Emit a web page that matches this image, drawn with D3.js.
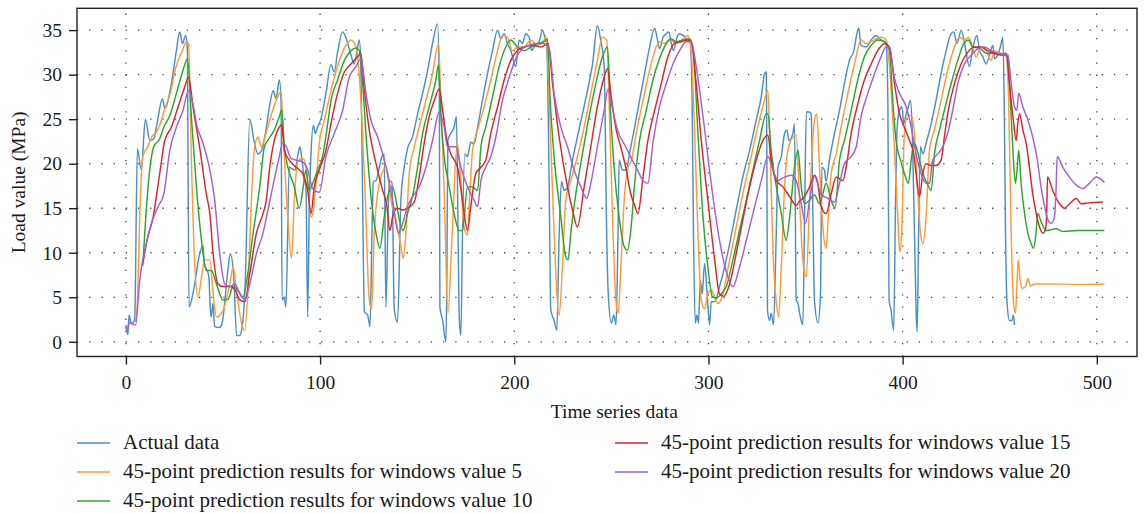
<!DOCTYPE html>
<html>
<head>
<meta charset="utf-8">
<script src="https://cdn.jsdelivr.net/npm/d3@7"></script>
<style>
  html, body { margin: 0; padding: 0; background: #fff; }
  svg { display: block; }
  text { font-family: "Liberation Serif", "DejaVu Serif", serif; fill: #1a1a1a; }
</style>
</head>
<body>
<svg id="chart" width="1145" height="514"></svg>
<script>
// ---------- data ----------
const xTicks = [0, 100, 200, 300, 400, 500];
const yTicks = [0, 5, 10, 15, 20, 25, 30, 35];
const seriesNames = [
  "Actual data",
  "45-point prediction results for windows value 5",
  "45-point prediction results for windows value 10",
  "45-point prediction results for windows value 15",
  "45-point prediction results for windows value 20"
];
const seriesColors = ["#4a8fc8", "#ff9a36", "#2ca52c", "#dc2424", "#a35fd6"];

const actualData = [[0,1.7],[1,0.8],[1.6,3.0],[2.8,2.0],[4.5,2.5],[5.9,21.7],[7.9,19.3],[10,25.0],[12.3,22.6],[14.3,22.8],[16,24.5],[18.8,27.3],[20,26.2],[23.4,29],[26,32.7],[27.7,34.8],[29.1,33.5],[30.8,34.4],[31.6,33],[32.5,3.9],[34.5,5.4],[38,9.9],[39.7,10.8],[40.3,9],[42.7,7.3],[43.5,3.5],[44,2.8],[44.8,4.3],[45.7,1.7],[48,1.6],[49.3,1.9],[52.5,8],[53.7,9.9],[55.5,7.5],[57,0.7],[58.5,0.7],[60,1.9],[61.3,5.8],[63.8,25],[66,22.5],[68,21.1],[69.7,21.4],[72.3,24],[73.9,26.4],[75.9,28.2],[77.3,27.3],[79,29.4],[79.9,27],[80.4,4.7],[81.5,5.0],[82.4,3.9],[84.1,19.6],[85.8,19.4],[87.2,19.3],[88.4,20.8],[89.6,21.9],[90.7,20.4],[91.9,18.1],[92.7,17.4],[93.6,2.8],[94.4,15],[95.3,21.1],[96.5,24.3],[97.5,23.4],[98.7,24.1],[100.4,25],[103,27.9],[105.6,31.1],[107.3,30.3],[109,32.5],[111.6,34.8],[113.7,33.9],[115.9,32.2],[117.6,31.2],[119.3,33.1],[120.2,33.9],[121,30.9],[121.9,16],[122.8,3.4],[124.5,3.0],[125.7,1.7],[126.7,12],[127.4,18],[128.8,18.1],[130.5,19.6],[131.9,20.8],[133,21.1],[133.9,3.9],[134.8,12],[135.6,18.1],[137,17.9],[138.2,3.6],[139.9,2.2],[141.6,15.9],[143.3,19.6],[145,21.7],[147.6,23],[150.2,25.6],[152.8,27.9],[155.4,30.5],[157.9,33.5],[160.5,35.7],[161.4,28],[161.7,3.9],[163.1,2.4],[164.8,0.0],[165.3,8],[165.8,22.6],[167.3,23.4],[169,24.1],[170.2,25.3],[170.9,15],[171.6,3],[172.5,0.7],[173.3,12],[174.5,21.1],[175.9,20.8],[177.6,22.4],[179.3,22.2],[181.1,24.1],[183.6,27.1],[186.2,30.1],[188.8,32.7],[191.4,35],[193.1,34],[194.8,34.6],[196.5,33.5],[198.2,32.7],[200.8,30.9],[202.5,33.9],[204.2,33.5],[205.9,34.6],[207.6,34.2],[208.9,32.7],[210.2,33.1],[212.8,33.7],[214.5,35],[215.7,34.2],[216.7,33.5],[217.9,19],[218.8,3.6],[220.5,2.4],[221.9,1.3],[223.1,12],[224.3,18],[225.7,17],[227.4,17.4],[230,20.4],[232.5,23],[235.1,25.6],[237.7,28.2],[240.3,31.2],[242.8,35.5],[244.5,33.9],[246.3,30.9],[247.6,12],[248.3,5.8],[250,2.1],[251.3,3.0],[252.4,1.9],[253.4,12],[254,20.4],[255.7,19.3],[257.4,19.3],[260,21.9],[262,24.1],[264.5,27.1],[267.1,30.1],[269.7,33.1],[272.3,35.2],[273.5,34.2],[274.8,32.9],[276.6,34.2],[278.3,34.6],[279.5,34.8],[280.9,33.5],[282,32.7],[283.8,34.2],[285.1,34.6],[286.9,34.4],[288.9,34],[290.6,33.7],[291.6,27],[292.3,12],[293.2,2.1],[294.1,3],[294.9,2.1],[295.8,6.9],[296.8,5.4],[298,8.8],[299.2,5.8],[300.6,1.9],[301.4,4.5],[303.2,4.5],[305.7,6.2],[308.3,8.4],[310.9,11],[314.3,14.8],[317.7,18.5],[321.2,21.5],[324.6,24.9],[327.2,27.5],[328.9,30.1],[329.8,30.3],[330.1,20],[330.4,3.6],[331.4,2.4],[332.3,3.2],[333.5,1.9],[334.9,12],[335.8,19.6],[337.5,20.8],[339.2,23.4],[340.4,23.8],[341.4,22.6],[343.5,23.4],[344.3,24.5],[345.2,4.7],[346.1,4.3],[347.3,2.8],[348.6,1.9],[349.5,14],[350.4,25.8],[351.8,25.8],[352.9,25.6],[353.8,14],[354.6,4.7],[356.4,2.1],[357.7,5.4],[358.4,19.6],[359.7,19.3],[360.6,18],[362.3,20.4],[364.9,23.4],[367.5,26],[370,29],[372.6,31.6],[374.9,32.7],[376.1,34.2],[377.4,35.2],[378.6,33.3],[381.2,33.1],[383.8,33.9],[386.3,34.4],[388.9,33.9],[391.5,33.5],[392.4,27],[393,4.7],[394,3.6],[395.4,1.3],[396.3,15],[397.2,24.1],[398.4,26],[399.6,26.4],[400.6,24.5],[401.8,25.6],[403,26.4],[404,27.1],[404.9,24.1],[406.1,12.2],[407,3],[407.5,1.1],[408.2,12],[409.2,21.9],[410.4,21.1],[412.1,22.3],[414.7,24.5],[417.2,27.1],[419.8,30.1],[422.4,32.7],[425,34.6],[426.3,34.8],[428,33.5],[430.2,35],[431.9,33.5],[434.4,30.9],[436,32.8],[438.2,34.4],[439.6,32.7],[441.3,32],[443,31.2],[444.7,32.2],[446.5,33.3],[447.3,31.8],[449,32.2],[450.8,33.5],[451.6,34.2],[452.3,27],[453,12],[453.7,4.7],[455,2.4],[456.4,2.4],[457,3.0],[457.6,1.9]];

const win5Data = [[5,2.2],[6,5],[7.1,14],[8.7,20.8],[11.2,21.9],[13.8,23.2],[15.5,23.5],[17.2,24.2],[19.8,26],[23.2,28.2],[25.8,30.9],[29.1,32.7],[31.1,33.7],[32.2,33.5],[33.8,19.6],[35.5,8.4],[37.2,5],[38.9,7.3],[40.6,9.2],[43.2,9.2],[44.9,5.4],[46.6,2.8],[50,3.5],[53.5,6.5],[55.2,8.4],[56.9,5.8],[59.5,2.1],[61.2,1.3],[62.9,6.2],[64.6,15.9],[66.3,21.9],[68,23],[69.7,21.9],[72.1,23.4],[75.6,26],[78.1,27.5],[79.9,28.1],[81,23.4],[83.3,14],[85.3,9.4],[86.7,15.9],[88.4,20.2],[90.7,20.6],[92,20.4],[93.6,17.8],[95.3,14],[96.2,14.4],[97.9,17.8],[99.6,22.3],[102.2,24.9],[105.6,28.2],[109.9,31.6],[113.3,33.3],[115.9,33.9],[118.5,33.1],[121,27.1],[123.3,15.9],[125.3,4.7],[126.5,3.7],[127.9,12.2],[130.5,17.8],[133.6,19.5],[134.8,18.6],[136.5,15.9],[139.1,13.7],[141.6,10.7],[142.8,9.4],[144.2,12.2],[145.9,18.9],[148.5,21.9],[151,24.1],[154.5,27.1],[157.9,30.1],[161,33.5],[162.2,27],[163.9,17],[165.8,3.2],[168,12],[170.6,22.3],[172.5,18],[174,13],[175.9,12],[177.2,17],[178.5,21.5],[181.1,23.8],[184.5,26.4],[187.9,29.4],[191.4,32.7],[193.9,34.4],[196.5,34.2],[199.1,32.7],[202,33.1],[205.1,33.1],[208.5,33.9],[211.9,33.3],[215.4,33.9],[216.2,34.4],[218,27.1],[220.5,12.2],[223.1,3],[224.8,8.5],[226.5,15.9],[229.1,18.1],[232.5,20.8],[236,24.1],[239.4,27.9],[242.8,31.6],[245.4,34.2],[247.6,33.9],[248.8,27.1],[250.6,14],[252.3,4.7],[253.5,3.2],[254.9,8.4],[256.6,15.9],[258.3,19.3],[260.5,20.5],[262.8,23.4],[266.3,27.1],[269.7,30.5],[273.1,33.1],[274.8,33.7],[277.4,33.5],[280,34],[283.4,33.5],[286.9,34],[289.4,34.4],[291.1,32.7],[292.9,23.4],[294.6,12.2],[296.3,4.7],[298,3.7],[299.7,5.4],[301.4,5.8],[303.2,5.1],[304.9,4.3],[307.5,5.4],[310.9,9.2],[314.3,12.9],[317.7,16.6],[321.2,20],[324.6,23.4],[328,26.4],[330.6,28.2],[331.5,23.4],[333.2,10.3],[335,4.3],[336.1,2.8],[337.5,8.4],[339.2,17.4],[340.9,21.5],[343.5,23],[345.2,23.2],[346.9,15.9],[348.6,9.2],[350.4,7.3],[352.1,15.9],[354.6,24.9],[355.8,25.6],[357.2,19.6],[358.9,12.9],[360.6,10.5],[361.8,14.4],[363.2,18.9],[365.8,21.1],[368.3,24.1],[371.8,27.9],[375.2,31.2],[378.6,33.9],[381.2,33.5],[383.8,33.7],[386.3,34],[388.9,34.2],[391.5,33.9],[393.2,30.9],[395.8,21.5],[397.5,14],[398.5,10.1],[399.5,12.2],[400.9,23.4],[402.6,25.4],[404.4,25.4],[406.1,23.4],[407.5,17.8],[409.2,12.2],[410.4,11],[412.1,14],[413.8,21.5],[416.4,23.8],[419.8,27.1],[423.2,30.5],[426.7,33.1],[429.2,34.2],[431.8,33.9],[433.9,34.2],[436.1,33.1],[437.8,32],[440.4,33.1],[443,32.7],[445.5,31.6],[447.3,32.7],[450.7,32.4],[453.3,32.2],[454.6,27],[455.9,12.2],[457,4.7],[458.1,3.2],[458.8,6],[459.5,9.2],[460.5,7],[461.6,6],[463.3,6.2],[464.5,7.1],[465.7,6.3],[467.9,6.5],[475,6.5],[490,6.45],[503.9,6.5]];

const win10Data = [[8.8,9.0],[11.4,17.4],[14.3,21.9],[17.4,22.8],[19.5,24.1],[22.6,25.4],[26,27.9],[29.4,30.5],[31.7,31.8],[33.7,25.3],[36.3,17.4],[38.9,11.4],[41.4,8],[44,8],[46.6,6.5],[50,4.7],[52.6,4.8],[55.2,6.2],[57.7,5.8],[60.2,5],[62.8,7.7],[65.5,12.2],[68.9,17.4],[71.3,21.9],[73,22.6],[76.4,23.8],[79,25.3],[80.2,26],[81.6,21.9],[83.8,19.3],[86.7,17.4],[89.3,15],[91.3,17.4],[92.7,19.3],[94.4,17],[96.2,17.8],[98.7,19.3],[101.3,20.8],[103.9,24.5],[105.6,27.1],[109,29.4],[112.5,31.6],[115.9,32.7],[118.5,33],[120.2,32.7],[121.9,29],[123.6,23.4],[126.2,16.3],[128.8,12.2],[130.8,10.5],[133,14],[134.8,16.3],[137.3,17.4],[139,16],[140.8,13.7],[142.8,12.5],[145,14.4],[147.6,16.3],[150.2,19.6],[152.8,23.4],[156.2,26.4],[159.6,29.4],[161,31.1],[162.2,25.3],[163.9,20.8],[166.5,17.4],[169,14.4],[171.6,12.5],[173.3,12.5],[175.9,17.4],[178.5,17.4],[181.1,17],[182.8,21.9],[185.3,24.1],[188.8,27.5],[192.2,30.9],[195.6,33.1],[198.2,33.9],[201.6,33.1],[205.1,32.7],[208.5,33.1],[211.9,33.5],[215.4,33.7],[217.1,34],[218.5,27.1],[220.5,20.8],[224,14],[226.5,9.5],[227.7,9.2],[229.1,12.2],[231.7,16.6],[235.1,21.1],[238.5,25.3],[242,29],[245.4,32],[248,33.1],[249.7,25.3],[251.4,19.6],[254,14],[256.6,10.7],[258.3,10.3],[260,12.5],[262,17.8],[264.5,22.6],[268,26],[271.4,29.4],[274.8,31.8],[278.3,33.5],[280.9,34],[283.4,33.7],[286.9,33.9],[290.3,34],[292,33],[294.6,23.4],[297.2,14],[299.7,8.4],[302,5.1],[304,4.9],[306.6,5.4],[309.2,6.2],[312.6,9.2],[316,12.5],[319.5,15.9],[322.9,19.3],[326.3,22.6],[329.8,25.6],[330.6,25.6],[332.3,21.5],[335,17.4],[337.5,14.4],[340,11.4],[341.8,14],[344.3,19.6],[346.1,21.5],[347.8,17.4],[349.5,15.5],[352,15.9],[354.6,16.5],[357.2,15.5],[358.9,16.6],[360.6,17.8],[363.2,15.9],[365.2,15],[367.5,20.4],[370,22.6],[373.5,26],[376.9,29.4],[380.3,32],[383.8,33.3],[387.2,33.9],[390.6,33.7],[393.2,32.7],[394.9,27.1],[396.6,22.6],[398.9,20.4],[400.9,18.9],[403,17.8],[404.4,20.4],[405.7,22.3],[407,21.9],[408.7,20.4],[410.4,18.9],[412.6,17.8],[414.7,17],[416.4,21.1],[419,23.8],[421.5,26],[425,29],[428.4,31.6],[431.5,33.5],[433.9,33.9],[436.1,33.1],[439.6,33],[443,32.4],[446.5,32.4],[451.6,32.2],[454.2,32],[455.5,27],[456.8,21.5],[458.1,17.8],[459,19.5],[459.8,21.5],[461,17.8],[462.8,14.4],[464.5,12.2],[466.2,11],[467.4,10.5],[468.6,12],[469.6,14.4],[471.3,13.5],[473.9,12.5],[476.5,12.6],[479.1,12.7],[482.5,12.4],[490,12.5],[503.9,12.5]];

const win15Data = [[8.5,8.5],[11,11.5],[14,14],[17.4,18.9],[20,22.6],[23.4,24.1],[26.9,26.4],[30.3,28.6],[32.2,29.7],[34.8,26],[38.2,21.5],[41.4,16.6],[43.2,14.4],[44.9,9.9],[47.4,6.5],[50,6.2],[53.5,6.2],[56,5.9],[58.6,4.7],[61.2,4.5],[63.8,7.7],[67.2,12.2],[70.6,14.4],[72.3,15.9],[73.9,19.3],[76.4,22.6],[79,24.1],[80.2,24.4],[81.6,21.5],[84.1,20.4],[87.6,19.6],[91,18.9],[93.6,17],[95.3,14.4],[97,17.4],[99.6,19.3],[103,21.5],[105.6,24.5],[109,27.9],[112.5,30.3],[115.9,31.2],[119.3,32],[121,32.4],[122.7,28.5],[125.3,23.8],[128.8,20],[132.2,17],[134.2,15.5],[136,12.5],[137.3,14],[139.9,15],[142.5,14.8],[145,15],[148.5,15.7],[151,18.5],[153.6,22.3],[156.2,25.3],[158.8,27.1],[161.4,28.4],[163.1,26],[165.6,22.3],[167.3,21.1],[170.8,19.6],[173.3,15.9],[175.9,12.5],[177.6,15.2],[180.2,18.9],[182.8,19.6],[185.3,20.4],[187.9,23.4],[191.4,26.4],[194.8,29.4],[198.2,31.6],[201.6,32.7],[205.1,33.1],[209.4,33.3],[213.7,33.1],[217.4,33.5],[219.7,29],[223.1,23],[227.4,17.4],[230,14.8],[232.5,12.9],[236,17.4],[239.4,21.9],[242.8,26.4],[246.3,29.7],[248,30.7],[249.7,27.9],[252.3,24],[254.8,21.9],[257.4,19.6],[260,16.6],[261.7,15.5],[263.7,14.4],[266.3,18.5],[268.8,22.6],[272.3,26],[275.7,29],[279.1,32],[282.6,33.5],[286,33.7],[289.4,33.9],[291.1,33.7],[293.7,29],[296.3,22.6],[299.7,15.9],[303.2,9.2],[305.7,5.4],[307.8,5.1],[310.9,6.5],[314.3,9.9],[317.7,13.7],[321.2,17.4],[324.6,20.4],[328,22.6],[330.6,23.2],[332.3,20.4],[334.9,18.1],[338.3,17.4],[341.8,16.3],[345.2,15.3],[346.9,15.8],[348.6,16.1],[352.1,17.4],[354.6,18.7],[356.3,17.8],[358,15.2],[360.6,14.4],[363.2,16.6],[365.8,18.5],[369.2,18.1],[370.9,19.6],[373.5,23.4],[376.9,26.7],[380.3,29.4],[383.8,31.2],[387.2,32.7],[390.6,33.5],[393.2,33.1],[395.8,29],[398.4,25.6],[400.9,24.1],[403.5,22.6],[405.7,21.1],[406.9,18.9],[408.7,16.3],[410.4,18.9],[412.1,20],[414.7,19.8],[417.2,19.8],[419.8,20.4],[421.5,23],[423.2,25.6],[426.7,29],[430.1,31.2],[433.5,32.5],[437,33.1],[440.4,33.1],[443.8,32.7],[447,32.4],[450.7,32.2],[453.3,32.4],[455,29],[456.8,25.3],[458.5,22.6],[459.3,24.5],[460.2,25.6],[461.9,23.8],[463.6,22.3],[465.3,19.6],[467,16.6],[468.8,14.4],[470.5,12.9],[472.2,12.2],[473.5,12.5],[474.2,14.5],[474.6,18.5],[477.3,17],[480.8,15.5],[483.4,15],[486,15.5],[489.4,16.1],[492,15.5],[496,15.6],[503.1,15.7]];

const win20Data = [[0,1.9],[0.5,1.3],[1.9,2.2],[3.5,2.0],[5,1.9],[7.1,6.9],[9.7,10.3],[13.1,13.3],[16.6,15.2],[19.5,16.6],[22.6,21.5],[26,24.1],[29.4,26],[32.2,28.2],[34.8,26.4],[36.3,24.5],[39.7,22.3],[43.2,19.3],[45.7,15.9],[48.3,9.9],[50.9,6.5],[53.5,6.2],[56.1,6.5],[58.6,5.4],[61.2,4.7],[63.8,6.5],[67.2,9.9],[70.6,12.2],[72.1,13.7],[75.6,17.4],[79,20.8],[80.7,22.3],[82.4,22],[85,20.6],[87.6,20.4],[91,20.2],[93.6,19.3],[96.2,17.2],[99.6,16.8],[103,20.8],[107.3,23.4],[111.6,26],[115,29.7],[118.5,30.9],[121,31.8],[123.6,27.9],[126.2,24.9],[129.6,23],[132.2,21.1],[134.8,18.9],[137.3,15.9],[140.4,12.2],[142.5,13.3],[145,15.2],[147.6,16.3],[151,17.4],[154.5,19.6],[157.9,22.6],[161.4,25.8],[163.9,24.1],[165.6,21.9],[169.9,21.9],[172.5,19.6],[175.9,17.4],[179.3,15.9],[181.1,15.2],[182.8,18.1],[185.3,19.6],[187.9,20.8],[190.5,23],[193.9,27.1],[197.4,29.7],[200.8,31.8],[204.2,32.9],[207.7,33.3],[211.9,33.5],[215,33.5],[218,32.9],[220.5,27.9],[224,24.1],[227.4,21.9],[230.8,19.3],[234.3,17.4],[237.3,16.1],[239.4,17.8],[242.8,21.9],[246.3,26],[248.3,28.4],[249.7,27.1],[253.1,23.8],[257.4,21.9],[260.5,20.5],[262.8,19.6],[266.3,18.1],[268.8,17.8],[271.4,22.3],[274.8,26.4],[278.3,29],[281.7,31.2],[285.1,32.7],[288.6,33.7],[291.1,33.7],[293.7,30.9],[297.2,25.3],[301.4,17.8],[305.7,11.4],[310,7.3],[312.6,6.2],[316,8.4],[319.5,11.4],[322.9,14.4],[327.2,18.1],[330.6,20.8],[333.2,19.3],[335.8,18.1],[339.2,18.5],[342.6,18.7],[345.2,18.1],[347.8,15.5],[350,13.3],[352.1,15.9],[354.6,18.6],[358,16.6],[361.5,16.1],[364.9,15.7],[367.5,17.8],[370,20],[373.5,20.8],[376.1,21.9],[378.6,25.3],[382.1,27.9],[385.5,30.1],[388.9,32],[391.5,33.1],[393.2,33.1],[395.8,29.6],[398.4,27.9],[401.8,26.4],[404.4,24.1],[406.9,21.1],[409.5,18.9],[412.1,17.8],[413.8,17.8],[415.5,20.4],[418.1,21.1],[420.7,21.9],[423.2,23.4],[425.8,26],[428.4,29],[431.8,31.2],[435.3,32.2],[438.7,32.9],[442.1,33.1],[445.5,32.7],[449,32.4],[454.2,32.2],[455.9,29],[457.6,26.4],[458.8,26],[459.8,27.9],[461.9,26.4],[464.5,24.9],[467,23],[469.1,20.8],[471.3,17.4],[473.1,15.2],[474.8,13.7],[476.5,13.3],[478.2,14],[479,17],[479.6,20.8],[482.5,19.6],[485.9,18.5],[489.4,17.6],[492.8,17.2],[496.2,17.8],[499.7,18.5],[503.9,17.9]];

const allSeries = [actualData, win5Data, win10Data, win15Data, win20Data];

// ---------- layout ----------
const svg = d3.select("#chart");
const plot = { left: 77, right: 1137, top: 8.3, bottom: 356.5 };

const x = d3.scaleLinear().domain([-25.2, 520.7]).range([plot.left, plot.right]);
const y = d3.scaleLinear().domain([-1.65, 37.45]).range([plot.bottom, plot.top]);

svg.append("defs").append("clipPath").attr("id", "clip")
  .append("rect")
  .attr("x", plot.left).attr("y", plot.top)
  .attr("width", plot.right - plot.left).attr("height", plot.bottom - plot.top);

// grid (dotted)
const grid = svg.append("g");
grid.selectAll("line.h").data(yTicks).join("line")
  .attr("x1", plot.left).attr("x2", plot.right)
  .attr("y1", d => y(d)).attr("y2", d => y(d))
  .attr("stroke", "#444").attr("stroke-width", 1.3)
  .attr("stroke-dasharray", "1.3,10.9");
grid.selectAll("line.v").data(xTicks).join("line")
  .attr("y1", plot.bottom).attr("y2", plot.top)
  .attr("x1", d => x(d)).attr("x2", d => x(d))
  .attr("stroke", "#444").attr("stroke-width", 1.3)
  .attr("stroke-dasharray", "1.3,10.9");

// lines
const line = d3.line()
  .x(d => x(d[0])).y(d => y(d[1]))
  .curve(d3.curveMonotoneX);

const lines = svg.append("g").attr("clip-path", "url(#clip)");
allSeries.forEach((s, i) => {
  lines.append("path")
    .datum(s)
    .attr("fill", "none")
    .attr("stroke", seriesColors[i])
    .attr("stroke-width", 1.45)
    .attr("stroke-linejoin", "round")
    .attr("d", line);
});

// frame
svg.append("rect")
  .attr("x", plot.left).attr("y", plot.top)
  .attr("width", plot.right - plot.left).attr("height", plot.bottom - plot.top)
  .attr("fill", "none").attr("stroke", "#222").attr("stroke-width", 1.4);

// axes
const xAxis = svg.append("g")
  .attr("transform", `translate(0,${plot.bottom})`)
  .call(d3.axisBottom(x).tickValues(xTicks).tickFormat(d3.format("d")).tickSize(8).tickPadding(11));
const yAxis = svg.append("g")
  .attr("transform", `translate(${plot.left},0)`)
  .call(d3.axisLeft(y).tickValues(yTicks).tickFormat(d3.format("d")).tickSize(8).tickPadding(7));
[xAxis, yAxis].forEach(a => {
  a.select(".domain").remove();
  a.selectAll(".tick line").attr("stroke", "#222").attr("stroke-width", 1.4);
  a.selectAll(".tick text")
    .attr("fill", "#1a1a1a")
    .style("font-family", '"Liberation Serif", "DejaVu Serif", serif')
    .style("font-size", "19.5px");
});

// axis titles
svg.append("text")
  .attr("x", (x(0) + x(500)) / 2 + 3).attr("y", 418)
  .attr("text-anchor", "middle")
  .style("font-size", "19.5px")
  .text("Time series data");
svg.append("text")
  .attr("transform", `translate(25,${(plot.top + plot.bottom) / 2}) rotate(-90)`)
  .attr("text-anchor", "middle")
  .style("font-size", "19.5px")
  .text("Load value (MPa)");

// legend
const legendPos = [
  { lx: 77, ty: 443 },
  { lx: 77, ty: 472 },
  { lx: 77, ty: 501 },
  { lx: 615, ty: 443 },
  { lx: 615, ty: 472 }
];
const legend = svg.append("g");
seriesNames.forEach((name, i) => {
  const p = legendPos[i];
  legend.append("line")
    .attr("x1", p.lx).attr("x2", p.lx + 33)
    .attr("y1", p.ty).attr("y2", p.ty)
    .attr("stroke", seriesColors[i]).attr("stroke-width", 1.6);
  legend.append("text")
    .attr("x", p.lx + 46).attr("y", p.ty + 6)
    .style("font-size", "21px")
    .text(name);
});
</script>
</body>
</html>
